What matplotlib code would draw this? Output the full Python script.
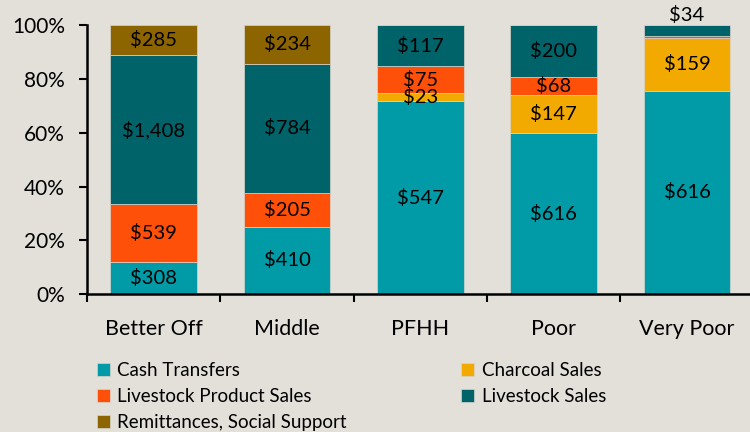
import numpy as np
import matplotlib.pyplot as plt
from matplotlib.ticker import PercentFormatter

plt.rcParams['font.family'] = ['Lato', 'DejaVu Sans']

# data
groups = ['Better Off', 'Middle', 'PFHH', 'Poor', 'Very Poor']
series = ['Cash Transfers', 'Charcoal Sales', 'Livestock Product Sales',
          'Livestock Sales', 'Remittances, Social Support']
cash_transfers = [308, 410, 547, 616, 616]
charcoal_sales = [0, 0, 23, 147, 159]
livestock_product = [539, 205, 75, 68, 5]
livestock_sales = [1408, 784, 117, 200, 34]
remittances = [285, 234, 0, 0, 0]

colors = ['#009BA6', '#F2AA00', '#FF5009', '#00636A', '#8C6400']
bg = '#E3E0DA'

vals = np.array([cash_transfers, charcoal_sales, livestock_product,
                 livestock_sales, remittances], dtype=float)
totals = vals.sum(axis=0)
shares = vals / totals * 100

fig = plt.figure(figsize=(7.5, 4.32), dpi=100, facecolor=bg)
ax = fig.add_axes([0.116, 0.319, 0.889, 0.623])
ax.set_facecolor(bg)

x = np.arange(len(groups))
bottom = np.zeros(len(groups))
for i in range(len(series)):
    ax.bar(x, shares[i], 0.65, bottom=bottom, color=colors[i], label=series[i],
           edgecolor='#d8d4cc', linewidth=0.5)
    for j in range(len(groups)):
        v = vals[i, j]
        if v < 10:
            continue
        s = shares[i, j]
        txt = '${:,.0f}'.format(v)
        if s < 5 and bottom[j] + s >= 99.9:
            ax.text(x[j], 100.3, txt, ha='center', va='bottom', fontsize=14.5,
                    clip_on=False)
        else:
            ax.text(x[j], bottom[j] + s / 2, txt, ha='center', va='center',
                    fontsize=14.5)
    bottom += shares[i]

ax.set_xlim(-0.5, 4.5)
ax.set_ylim(0, 100)
ax.set_yticks(np.arange(0, 101, 20))
ax.yaxis.set_major_formatter(PercentFormatter(decimals=0))
ax.set_xticks(np.arange(-0.5, 4.6, 1))
ax.set_xticklabels([])
ax.set_xticks(x, minor=True)
ax.set_xticklabels(groups, minor=True, fontsize=15.5)
ax.tick_params(axis='x', which='minor', length=0, pad=18)
ax.tick_params(axis='x', which='major', direction='out', length=6, width=1.5)
ax.tick_params(axis='y', direction='out', length=6, width=1.5, labelsize=15,
               pad=10)

for side in ['top', 'right']:
    ax.spines[side].set_visible(False)
for side in ['left', 'bottom']:
    ax.spines[side].set_linewidth(1.8)

# legend filled row by row like the original
h, l = ax.get_legend_handles_labels()
order = [0, 2, 4, 1, 3]
leg = fig.legend([h[k] for k in order], [l[k] for k in order], ncol=2,
                 loc='upper left', bbox_to_anchor=(0.119, 0.18),
                 frameon=False, fontsize=13.5, handlelength=0.7, handleheight=0.7,
                 handletextpad=0.4, columnspacing=6.1, labelspacing=0.5,
                 borderaxespad=0)

fig.savefig('out.png', dpi=100, facecolor=bg)
